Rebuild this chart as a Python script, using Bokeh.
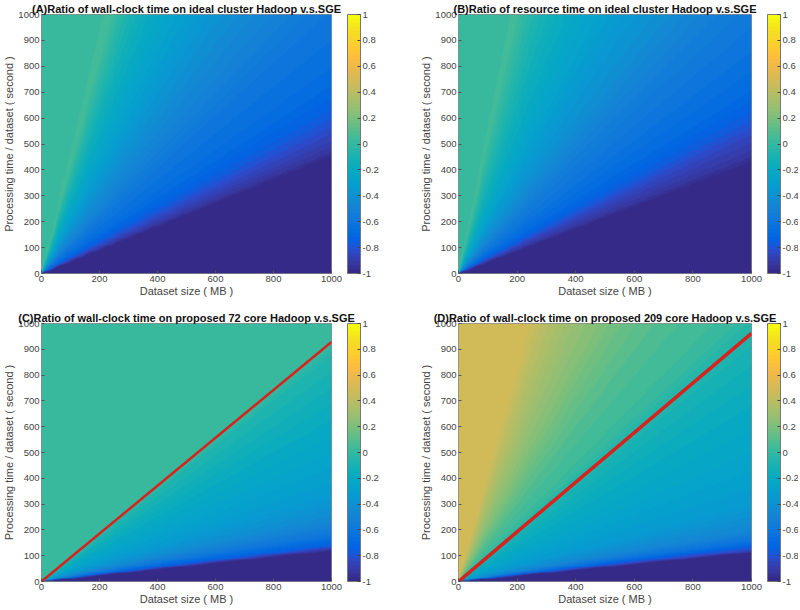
import numpy as np
from bokeh.plotting import figure
from bokeh.models import (LinearColorMapper, ColorBar, FixedTicker, Range1d, CustomJSTickFormatter)
from bokeh.layouts import column, row
from bokeh.embed import file_html
from bokeh.resources import INLINE

# MATLAB parula (64 levels)
PARULA_RGB = [
    (0.2081, 0.1663, 0.5292), (0.2116, 0.1898, 0.5777), (0.2123, 0.2138, 0.6270), (0.2081, 0.2386, 0.6771),
    (0.1959, 0.2645, 0.7279), (0.1707, 0.2919, 0.7792), (0.1253, 0.3242, 0.8303), (0.0591, 0.3598, 0.8683),
    (0.0117, 0.3875, 0.8820), (0.0060, 0.4086, 0.8828), (0.0165, 0.4266, 0.8786), (0.0329, 0.4430, 0.8720),
    (0.0498, 0.4586, 0.8641), (0.0629, 0.4737, 0.8554), (0.0723, 0.4887, 0.8467), (0.0779, 0.5040, 0.8384),
    (0.0793, 0.5200, 0.8312), (0.0749, 0.5375, 0.8263), (0.0641, 0.5570, 0.8240), (0.0488, 0.5772, 0.8228),
    (0.0343, 0.5966, 0.8199), (0.0265, 0.6137, 0.8135), (0.0239, 0.6287, 0.8038), (0.0231, 0.6418, 0.7913),
    (0.0228, 0.6535, 0.7768), (0.0267, 0.6642, 0.7607), (0.0384, 0.6743, 0.7436), (0.0590, 0.6838, 0.7254),
    (0.0843, 0.6928, 0.7062), (0.1133, 0.7015, 0.6859), (0.1453, 0.7098, 0.6646), (0.1801, 0.7177, 0.6424),
    (0.2178, 0.7250, 0.6193), (0.2586, 0.7317, 0.5954), (0.3022, 0.7376, 0.5712), (0.3482, 0.7424, 0.5473),
    (0.3953, 0.7459, 0.5244), (0.4420, 0.7481, 0.5033), (0.4871, 0.7491, 0.4840), (0.5300, 0.7491, 0.4661),
    (0.5709, 0.7485, 0.4494), (0.6099, 0.7473, 0.4337), (0.6473, 0.7456, 0.4188), (0.6834, 0.7435, 0.4044),
    (0.7184, 0.7411, 0.3905), (0.7525, 0.7384, 0.3768), (0.7858, 0.7356, 0.3633), (0.8185, 0.7327, 0.3498),
    (0.8507, 0.7299, 0.3360), (0.8824, 0.7274, 0.3217), (0.9139, 0.7258, 0.3063), (0.9450, 0.7261, 0.2886),
    (0.9739, 0.7314, 0.2666), (0.9938, 0.7455, 0.2403), (0.9990, 0.7653, 0.2164), (0.9955, 0.7861, 0.1967),
    (0.9880, 0.8066, 0.1794), (0.9789, 0.8271, 0.1633), (0.9697, 0.8481, 0.1475), (0.9626, 0.8705, 0.1309),
    (0.9589, 0.8949, 0.1132), (0.9598, 0.9218, 0.0948), (0.9661, 0.9514, 0.0755), (0.9763, 0.9831, 0.0538),
]
PARULA = ["#%02x%02x%02x" % tuple(int(round(c * 255)) for c in rgb) for rgb in PARULA_RGB]

# ---------------- data ----------------
titles = [
    "(A)Ratio of wall-clock time on ideal cluster Hadoop v.s.SGE",
    "(B)Ratio of resource time on ideal cluster Hadoop v.s.SGE",
    "(C)Ratio of wall-clock time on proposed 72 core Hadoop v.s.SGE",
    "(D)Ratio of wall-clock time on proposed 209 core Hadoop v.s.SGE",
]
x_label = "Dataset size ( MB )"
y_label = "Processing time / dataset ( second )"
x_ticks = [0, 200, 400, 600, 800, 1000]
y_ticks = [0, 100, 200, 300, 400, 500, 600, 700, 800, 900, 1000]
cbar_ticks = [-1, -0.8, -0.6, -0.4, -0.2, 0, 0.2, 0.4, 0.6, 0.8, 1]

# ratio read along rays: slope = processing time / dataset size (s per MB)
A_slope = [0, 0.445, 0.46, 0.5, 0.55, 0.62, 0.75, 0.88, 1.0, 1.19, 1.5, 2.0, 2.6, 3.1, 3.6, 4.2, 5.0, 8.0, 50]
A_ratio = [-1, -1, -0.95, -0.89, -0.83, -0.76, -0.67, -0.63, -0.60, -0.52, -0.43, -0.31, -0.20, -0.12, -0.04, 0.05, 0.02, 0.01, 0.01]

B_slope = [0, 0.42, 0.44, 0.48, 0.53, 0.6, 0.7, 0.84, 1.08, 1.43, 2.1, 2.7, 3.3, 4.2, 5.0, 6.5, 10, 50]
B_ratio = [-1, -1, -0.95, -0.90, -0.85, -0.77, -0.69, -0.63, -0.55, -0.42, -0.28, -0.19, -0.12, -0.03, 0.04, 0.02, 0.01, 0.01]

C_slope = [0, 0.115, 0.125, 0.14, 0.18, 0.25, 0.35, 0.5, 0.7, 0.88, 0.928, 50]
C_ratio = [-1, -1, -0.90, -0.75, -0.60, -0.44, -0.33, -0.25, -0.15, -0.06, 0.02, 0.02]

D_slope = [0, 0.11, 0.12, 0.15, 0.2, 0.3, 0.5, 0.7, 0.9, 0.96, 1.08, 1.43, 2.1, 2.86, 4.07, 50]
D_ratio = [-1, -1, -0.85, -0.65, -0.47, -0.34, -0.25, -0.18, -0.10, -0.07, 0.02, 0.08, 0.22, 0.33, 0.47, 0.47]

line_x = [0, 1000]
C_line_y = [0, 928]
D_line_y = [0, 962]
# -------------------------------------------------------------

FONT = "Liberation Sans"
N = 300
centers = (np.arange(N) + 0.5) / N * 1000.0
GX, GY = np.meshgrid(centers, centers)

LEFT = 41


def field(slopes, ratios):
    s = GY / GX
    return np.interp(s, slopes, ratios)


def panel(title, slopes, ratios, left_col, top_row, line_y=None, line_w=2.5):
    frame_w = 290 if left_col else 293
    right = 86 if left_col else 47
    frame_h = 259 if top_row else 258
    top = 14 if top_row else 16
    bottom = 34 if top_row else 27
    p = figure(width=LEFT + frame_w + right, height=top + frame_h + bottom,
               x_range=Range1d(0, 1000), y_range=Range1d(0, 1000),
               output_backend="svg", toolbar_location=None,
               min_border_left=LEFT, min_border_right=right, min_border_top=top, min_border_bottom=bottom)
    mapper = LinearColorMapper(palette=PARULA, low=-1, high=1)
    p.image(image=[field(slopes, ratios)], x=0, y=0, dw=1000, dh=1000, color_mapper=mapper)
    if line_y is not None:
        p.line(line_x, line_y, line_color="#d9221c", line_width=line_w)

    p.title.text = title
    p.title.align = "center"
    p.title.text_font = FONT
    p.title.text_font_size = "11px"
    p.title.text_font_style = "bold"
    p.title.text_color = "#111111"
    p.title.standoff = 0

    p.grid.visible = False
    p.outline_line_color = "#8c8c8c"
    p.outline_line_width = 1
    p.xaxis.ticker = FixedTicker(ticks=x_ticks)
    p.yaxis.ticker = FixedTicker(ticks=y_ticks)
    p.xaxis.axis_label = x_label
    p.yaxis.axis_label = y_label
    for ax in (p.xaxis[0], p.yaxis[0]):
        ax.axis_line_color = None
        ax.major_tick_in = 3
        ax.major_tick_out = 0
        ax.major_tick_line_color = "#555555"
        ax.minor_tick_line_color = None
        ax.major_label_text_font = FONT
        ax.major_label_text_font_size = "9.5px"
        ax.major_label_text_color = "#444444"
        ax.major_label_standoff = 2
        ax.axis_label_text_font = FONT
        ax.axis_label_text_font_size = "11px"
        ax.axis_label_text_font_style = "normal"
        ax.axis_label_text_color = "#444444"
        ax.axis_label_standoff = 0

    cb = ColorBar(color_mapper=mapper, ticker=FixedTicker(ticks=cbar_ticks),
                  formatter=CustomJSTickFormatter(code="return (Math.round(tick*10)/10).toString();"),
                  width=13, height=frame_h, margin=0, padding=0, location=(frame_w + 16, 0),
                  bar_line_color="#777777", bar_line_width=1,
                  major_tick_in=3, major_tick_out=0, major_tick_line_color="#444444",
                  major_label_text_font=FONT, major_label_text_font_size="9.5px",
                  major_label_text_color="#444444", label_standoff=2,
                  background_fill_color=None, border_line_color=None)
    p.add_layout(cb, "center")
    return p


pA = panel(titles[0], A_slope, A_ratio, True, True)
pB = panel(titles[1], B_slope, B_ratio, False, True)
pC = panel(titles[2], C_slope, C_ratio, True, False, C_line_y, 2.5)
pD = panel(titles[3], D_slope, D_ratio, False, False, D_line_y, 3.5)

layout = column(row(pA, pB), row(pC, pD))
open("out.html", "w").write(file_html(layout, INLINE))
